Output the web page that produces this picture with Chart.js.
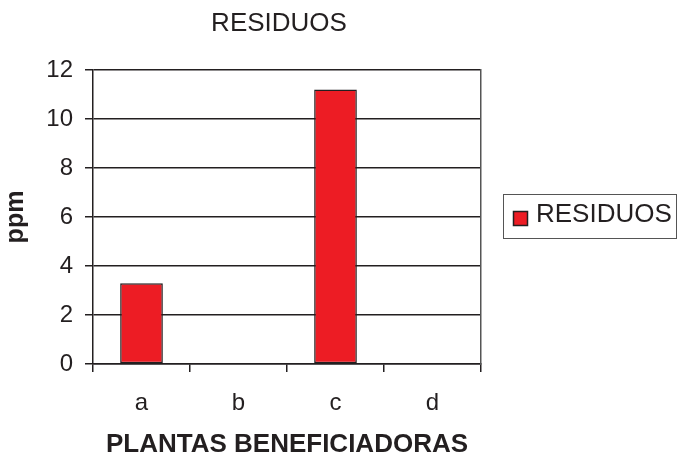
<!DOCTYPE html>
<html>
<head>
<meta charset="utf-8">
<script src="https://cdn.jsdelivr.net/npm/chart.js@4.4.1/dist/chart.umd.min.js"></script>
<style>
  html, body { margin: 0; padding: 0; background: #fff; }
  #wrap { width: 678px; height: 460px; }
</style>
</head>
<body>
<div id="wrap"><canvas id="residuos-chart" width="678" height="460"></canvas></div>
<script>
var categorias = ['a', 'b', 'c', 'd'];
var residuos = [3.3, 0, 11.2, 0];
var serie_label = 'RESIDUOS';
var titulo = 'RESIDUOS';
var eje_x = 'PLANTAS BENEFICIADORAS';
var eje_y = 'ppm';

var fuente = "'Liberation Sans', Arial, sans-serif";

// caja de leyenda a la derecha, con borde
var leyenda_caja = {
    id: 'leyendaCaja',
    afterLayout: function(chart) {
        // el titulo va un poco a la izquierda del centro del area
        if (chart.titleBlock) {
            chart.titleBlock.left -= 8;
            chart.titleBlock.right -= 8;
        }
    },
    afterDraw: function(chart) {
        var ctx = chart.ctx;
        var ds = chart.data.datasets[0];
        ctx.save();
        ctx.strokeStyle = '#555';
        ctx.lineWidth = 1;
        ctx.strokeRect(503.5, 194.5, 173, 44);
        ctx.fillStyle = ds.backgroundColor;
        ctx.fillRect(513, 211, 15, 15);
        ctx.strokeStyle = '#231f20';
        ctx.lineWidth = 1.5;
        ctx.strokeRect(513.5, 211.5, 14, 14);
        ctx.fillStyle = '#231f20';
        ctx.font = '26px ' + fuente;
        ctx.textAlign = 'left';
        ctx.textBaseline = 'middle';
        ctx.fillText(ds.label, 536, 215);
        ctx.restore();
    }
};

var residuos_chart = {
    type: 'bar',
    data: {
        labels: categorias,
        datasets: [{
            label: serie_label,
            data: residuos,
            backgroundColor: '#ed1c24',
            borderColor: '#231f20',
            borderWidth: 1.5,
            borderSkipped: false,
            categoryPercentage: 1.0,
            barPercentage: 0.44
        }]
    },
    options: {
        responsive: false,
        animation: false,
        layout: {
            padding: { left: 0, right: 197, top: 0, bottom: 0 }
        },
        plugins: {
            legend: { display: false },
            tooltip: { enabled: false },
            title: {
                display: true,
                text: titulo,
                fullSize: false,
                color: '#231f20',
                font: { family: fuente, size: 26, weight: 'normal' },
                padding: { top: 8, bottom: 30.8 }
            }
        },
        scales: {
            x: {
                afterFit: function(scale) { scale.height = 96; },
                grid: {
                    offset: true,
                    drawOnChartArea: false,
                    color: '#231f20',
                    lineWidth: 1.5,
                    tickLength: 8
                },
                border: { color: '#231f20', width: 1.5 },
                ticks: {
                    color: '#231f20',
                    padding: 17,
                    font: { family: fuente, size: 24 }
                },
                title: {
                    display: true,
                    text: eje_x,
                    color: '#231f20',
                    font: { family: fuente, size: 26, weight: 'bold' },
                    padding: { top: 0, bottom: 0 }
                }
            },
            y: {
                min: 0,
                max: 12,
                afterFit: function(scale) { scale.width = 93; },
                grid: {
                    color: '#231f20',
                    lineWidth: 1.5,
                    tickLength: 8
                },
                border: { color: '#231f20', width: 1.5 },
                ticks: {
                    stepSize: 2,
                    color: '#231f20',
                    padding: 12,
                    font: { family: fuente, size: 24 }
                },
                title: {
                    display: true,
                    text: eje_y,
                    color: '#231f20',
                    font: { family: fuente, size: 25, weight: 'bold' },
                    padding: { top: 1, bottom: 0 }
                }
            },
            y2: {
                position: 'right',
                min: 0,
                max: 12,
                afterFit: function(scale) { scale.width = 0; },
                grid: { drawOnChartArea: false, drawTicks: false },
                border: { display: true, color: '#555', width: 1.5 },
                ticks: { display: false }
            }
        }
    },
    plugins: [leyenda_caja]
};

window.onload = function() {
    var residuos_w = document.getElementById('residuos-chart').getContext('2d');
    window.myBar = new Chart(residuos_w, residuos_chart);
};
</script>
</body>
</html>
